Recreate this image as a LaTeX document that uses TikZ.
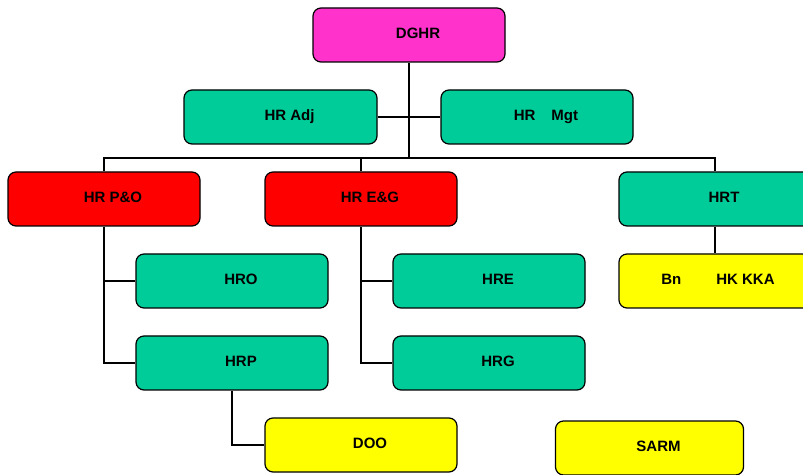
\documentclass[tikz,border=0pt]{standalone}
\usepackage{fontspec}
\setmainfont{Liberation Sans}
\definecolor{cmag}{HTML}{FF33CC}
\definecolor{cgreen}{HTML}{00CC99}
\definecolor{cred}{HTML}{FF0000}
\definecolor{cyel}{HTML}{FFFF00}
\begin{document}
\begin{tikzpicture}[x=1pt,y=1pt,
  box/.style={draw=black,line width=1.2pt,rounded corners=8pt,minimum width=192pt,minimum height=54pt,inner sep=0pt,
    font=\fontsize{15}{17}\selectfont\bfseries},
  conn/.style={draw=black,line width=1.2pt}]
\useasboundingbox (0,0) rectangle (803,474);
\newcommand{\tx}[2][18pt]{\raisebox{4pt}{\hspace*{#1}#2}}
\node[box,fill=cmag] (DGHR) at (409,439) {\tx{DGHR}};
\node[box,fill=cgreen,minimum width=193pt] (ADJ) at (280.5,357) {\tx{HR Adj}};
\node[box,fill=cgreen] (MGT) at (537,357) {\tx{HR\hspace{16pt}Mgt}};
\node[box,fill=cred] (PO) at (104,275) {\tx{HR P\&O}};
\node[box,fill=cred] (EG) at (361,275) {\tx{HR E\&G}};
\node[box,fill=cgreen] (HRT) at (715,275) {\tx{HRT}};
\node[box,fill=cgreen] (HRO) at (232,193) {\tx{HRO}};
\node[box,fill=cgreen] (HRP) at (232,111) {\tx{HRP}};
\node[box,fill=cgreen] (HRE) at (489,193) {\tx{HRE}};
\node[box,fill=cgreen] (HRG) at (489,111) {\tx{HRG}};
\node[box,fill=cyel] (BN) at (715,193) {\tx[6pt]{Bn\hspace{35pt}HK KKA}};
\node[box,fill=cyel] (DOO) at (361,29) {\tx{DOO}};
\node[box,fill=cyel,minimum width=188pt] (SARM) at (649.5,26) {\tx{SARM}};
\coordinate (bus) at (409,316);
\draw[conn] (DGHR.south) -- (DGHR.south |- bus);
\draw[conn] (ADJ.east) -- (MGT.west);
\draw[conn] (PO.north) |- (HRT.north |- bus) -- (HRT.north);
\draw[conn] (EG.north) -- (EG.north |- bus);
\draw[conn] (PO.south) |- (HRP.west);
\draw[conn] (PO.south |- HRO.west) -- (HRO.west);
\draw[conn] (EG.south) |- (HRG.west);
\draw[conn] (EG.south |- HRE.west) -- (HRE.west);
\draw[conn] (HRT.south) -- (BN.north);
\draw[conn] (HRP.south) |- (DOO.west);
\end{tikzpicture}
\end{document}
